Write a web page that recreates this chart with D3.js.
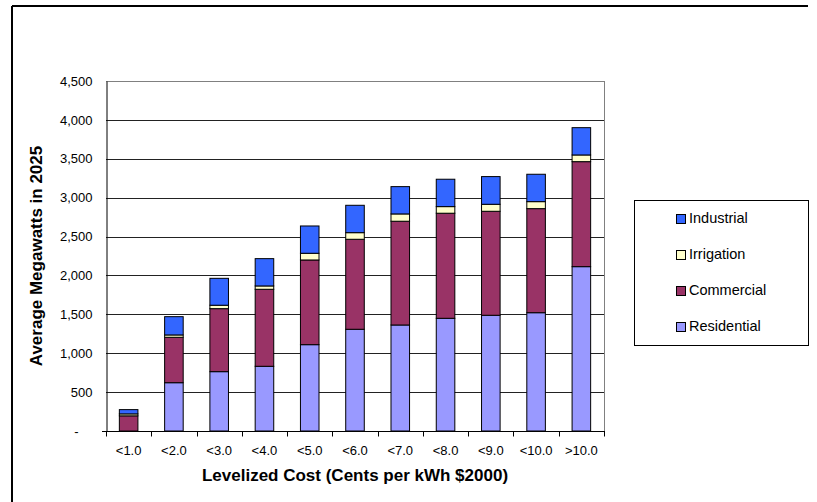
<!DOCTYPE html>
<html>
<head>
<meta charset="utf-8">
<script src="https://cdn.jsdelivr.net/npm/d3@7"></script>
<style>
  body { margin: 0; background: #fff; }
  svg { display: block; }
  text { font-family: "Liberation Sans", Arial, sans-serif; }
</style>
</head>
<body>
<svg id="chart" width="817" height="502"></svg>
<script>
// ---- data ----
const categories = ["<1.0", "<2.0", "<3.0", "<4.0", "<5.0", "<6.0", "<7.0", "<8.0", "<9.0", "<10.0", ">10.0"];
const residential = [0, 621, 763, 832, 1110, 1308, 1363, 1449, 1488, 1521, 2113];
const commercial  = [195, 584, 810, 990, 1089, 1157, 1334, 1351, 1337, 1338, 1350];
const irrigation  = [25, 30, 44, 43, 86, 85, 94, 85, 90, 90, 86];
const industrial  = [55, 235, 346, 351, 351, 352, 351, 352, 356, 352, 351];
const seriesNames = ["Residential", "Commercial", "Irrigation", "Industrial"];
const seriesColors = ["#9999FF", "#993366", "#FFFFCC", "#3366FF"];
const yTicks = [0, 500, 1000, 1500, 2000, 2500, 3000, 3500, 4000, 4500];
const yTitle = "Average Megawatts in 2025";
const xTitle = "Levelized Cost (Cents per kWh $2000)";

const rows = categories.map((c, i) => ({
  cat: c,
  Residential: residential[i],
  Commercial: commercial[i],
  Irrigation: irrigation[i],
  Industrial: industrial[i]
}));

const svg = d3.select("#chart");
const plot = { left: 106, right: 604, top: 81, bottom: 431 };

// outer frame (top and left visible)
svg.append("line").attr("x1", 12).attr("y1", 6).attr("x2", 808).attr("y2", 6)
  .attr("stroke", "#000").attr("stroke-width", 2);
svg.append("line").attr("x1", 12).attr("y1", 6).attr("x2", 12).attr("y2", 502)
  .attr("stroke", "#000").attr("stroke-width", 2);

const x = d3.scaleBand().domain(categories).range([plot.left, plot.right]).padding(0);
const y = d3.scaleLinear().domain([0, 4500]).range([plot.bottom, plot.top]);

// gridlines
svg.append("g").selectAll("line").data(yTicks.filter(t => t > 0)).join("line")
  .attr("x1", plot.left).attr("x2", plot.right)
  .attr("y1", d => Math.round(y(d)) + 0.5).attr("y2", d => Math.round(y(d)) + 0.5)
  .attr("stroke", d => d === 4500 ? "#808080" : "#222").attr("stroke-width", 1);

// plot area right border
svg.append("line").attr("x1", plot.right + 0.5).attr("x2", plot.right + 0.5)
  .attr("y1", plot.top).attr("y2", plot.bottom).attr("stroke", "#808080");

// stacked bars
const stack = d3.stack().keys(seriesNames);
const stacked = stack(rows);
const color = d3.scaleOrdinal().domain(seriesNames).range(seriesColors);
const barW = x.bandwidth() * 0.41;

svg.append("g").selectAll("g").data(stacked).join("g")
  .attr("fill", d => color(d.key))
  .selectAll("rect").data(d => d.filter(p => p[1] - p[0] > 0)).join("rect")
  .attr("x", d => x(d.data.cat) + (x.bandwidth() - barW) / 2)
  .attr("width", barW)
  .attr("y", d => y(d[1]))
  .attr("height", d => y(d[0]) - y(d[1]))
  .attr("stroke", "#000").attr("stroke-width", 1);

// y axis
const yAxis = d3.axisLeft(y).tickValues(yTicks).tickSize(0).tickPadding(14)
  .tickFormat(d => d === 0 ? "-" : d3.format(",")(d));
const gy = svg.append("g").attr("transform", `translate(${plot.left + 0.5},0)`).call(yAxis);
gy.select(".domain").attr("stroke", "#000");
gy.selectAll("text").attr("font-size", "13px").attr("fill", "#000");
gy.selectAll(".tick").filter(d => d === 0).select("text").attr("dx", -14);

// x axis: ticks at category boundaries
const gx = svg.append("g").attr("transform", `translate(0,${plot.bottom + 0.5})`);
gx.append("line").attr("x1", plot.left - 4).attr("x2", plot.right + 1)
  .attr("stroke", "#000");
const bounds = categories.map(c => x(c)).concat([plot.right]);
gx.selectAll("line.tk").data(bounds).join("line").attr("class", "tk")
  .attr("x1", d => Math.round(d) + 0.5).attr("x2", d => Math.round(d) + 0.5)
  .attr("y1", 0).attr("y2", 5).attr("stroke", "#000");
gx.selectAll("text").data(categories).join("text")
  .attr("x", d => x(d) + x.bandwidth() / 2)
  .attr("y", 20)
  .attr("text-anchor", "middle")
  .attr("dominant-baseline", "middle")
  .attr("font-size", "13px")
  .text(d => d);

// axis titles
svg.append("text")
  .attr("transform", `translate(38,${(plot.top + plot.bottom) / 2}) rotate(-90)`)
  .attr("text-anchor", "middle").attr("dominant-baseline", "middle")
  .attr("font-size", "17px").attr("font-weight", "bold")
  .text(yTitle);
svg.append("text")
  .attr("x", (plot.left + plot.right) / 2).attr("y", 477)
  .attr("text-anchor", "middle").attr("dominant-baseline", "middle")
  .attr("font-size", "17px").attr("font-weight", "bold")
  .text(xTitle);

// legend
const lg = svg.append("g");
lg.append("rect").attr("x", 634.5).attr("y", 200.5).attr("width", 174).attr("height", 145)
  .attr("fill", "#fff").attr("stroke", "#000");
const legendOrder = ["Industrial", "Irrigation", "Commercial", "Residential"];
const legendY = d3.scalePoint().domain(legendOrder).range([219, 327]);
const items = lg.selectAll("g.item").data(legendOrder).join("g").attr("class", "item")
  .attr("transform", d => `translate(0,${legendY(d)})`);
items.append("rect").attr("x", 676.5).attr("y", -4.5).attr("width", 9).attr("height", 9)
  .attr("fill", d => color(d)).attr("stroke", "#000");
items.append("text").attr("x", 689).attr("y", 0).attr("dominant-baseline", "middle")
  .attr("font-size", "14.5px").text(d => d);
</script>
</body>
</html>
